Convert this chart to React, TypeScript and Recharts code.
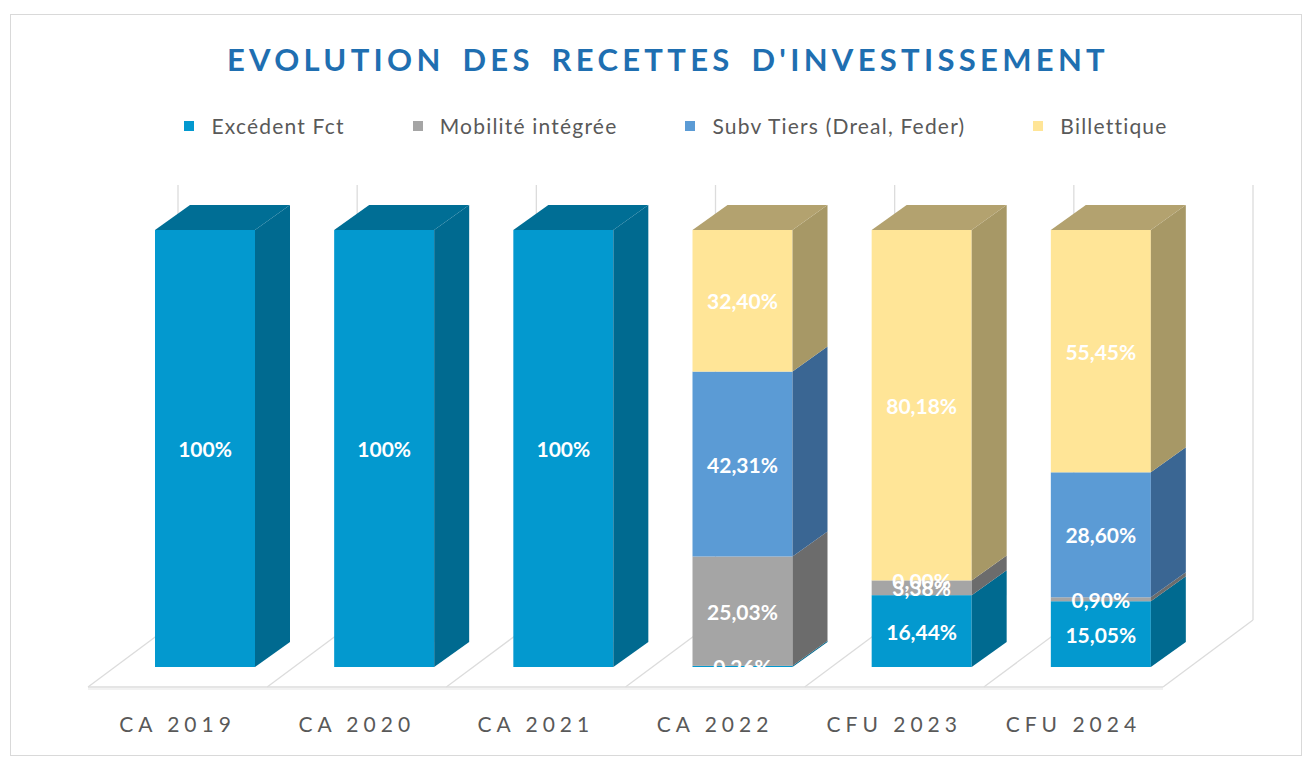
import React from 'react';
import { BarChart, Bar, XAxis, YAxis, LabelList } from 'recharts';

// categories and series (percent of the yearly total)
const categories = ['CA 2019', 'CA 2020', 'CA 2021', 'CA 2022', 'CFU 2023', 'CFU 2024'];
const excedentFct = [100, 100, 100, 0.26, 16.44, 15.05];
const mobiliteIntegree = [null, null, null, 25.03, 3.38, 0.9];
const subvTiers = [null, null, null, 42.31, 0, 28.6];
const billettique = [null, null, null, 32.4, 80.18, 55.45];

const series = [
  { key: 'excedent', name: 'Excédent Fct', values: excedentFct, front: '#0399CF', side: '#006A90', top: '#006E95' },
  { key: 'mobilite', name: 'Mobilité intégrée', values: mobiliteIntegree, front: '#A5A5A5', side: '#6C6C6C', top: '#7A7A7A' },
  { key: 'subv', name: 'Subv Tiers (Dreal, Feder)', values: subvTiers, front: '#5B9BD5', side: '#3A6693', top: '#426F9E' },
  { key: 'billettique', name: 'Billettique', values: billettique, front: '#FFE597', side: '#A79866', top: '#B3A26F' },
];

const rows = categories.map((cat, i) => {
  const row: any = { cat };
  series.forEach((s) => { row[s.key] = s.values[i]; });
  return row;
});

// layout
const W = 1314;
const H = 759;
const M = { top: 230, right: 124, bottom: 62, left: 115 };
const AXIS_H = 30;
const BASE = H - M.bottom - AXIS_H;
const DEPTH_X = 35;
const DEPTH_Y = 25;
const FONT = 'Lato, "Open Sans", sans-serif';

const topKeyOf = (row: any) => {
  let k = '';
  series.forEach((s) => { if (row[s.key] > 0) k = s.key; });
  return k;
};

const make3D = (s: typeof series[number]) => (props: any) => {
  const { x, y, width, height, index } = props;
  if (!height || height <= 0) return <g />;
  const row = rows[index];
  const isTop = topKeyOf(row) === s.key;
  const pts = (a: number[][]) => a.map((p) => p.join(',')).join(' ');
  return (
    <g>
      <rect x={x} y={y} width={width} height={height} fill={s.front} />
      <polygon
        points={pts([[x + width, y], [x + width + DEPTH_X, y - DEPTH_Y], [x + width + DEPTH_X, y + height - DEPTH_Y], [x + width, y + height]])}
        fill={s.side}
      />
      {isTop && (
        <polygon
          points={pts([[x, y], [x + DEPTH_X, y - DEPTH_Y], [x + width + DEPTH_X, y - DEPTH_Y], [x + width, y]])}
          fill={s.top}
        />
      )}
    </g>
  );
};

const fmt = (v: number) => (v === 100 ? '100%' : v.toFixed(2).replace('.', ',') + '%');

// bottom series labels are cut at the floor line, as in the original
const makeLabel = (clipBottom: boolean) => (props: any) => {
  const { x, y, width, height, value, index } = props;
  if (value === null || value === undefined) return null;
  const cx = x + width / 2;
  const cy = y + height / 2;
  const id = `clip-lbl-${index}`;
  return (
    <g>
      {clipBottom && (
        <defs>
          <clipPath id={id}>
            <rect x={x - 20} y={y - 100} width={width + 40} height={height + 100} />
          </clipPath>
        </defs>
      )}
      <text
        x={cx}
        y={cy}
        textAnchor="middle"
        dominantBaseline="central"
        fill="#FFFFFF"
        fontFamily={FONT}
        fontWeight={700}
        fontSize={21}
        clipPath={clipBottom ? `url(#${id})` : undefined}
      >
        {fmt(value)}
      </text>
    </g>
  );
};

const CategoryTick = ({ x, y, payload }: any) => (
  <text
    x={x - 27}
    y={y + 48}
    textAnchor="middle"
    dominantBaseline="central"
    fill="#595959"
    fontFamily={FONT}
    fontSize={21}
    letterSpacing={5}
  >
    {payload.value}
  </text>
);

// 3D floor and back wall drawn behind the chart
const Floor = () => {
  const n = categories.length;
  const left = M.left;
  const right = W - M.right;
  const band = (right - left) / n;
  const fx = left - 27;
  const fy = BASE + 20;
  const bx = left + 63;
  const by = BASE - 47;
  const wallTop = 185;
  const lines = [];
  for (let k = 0; k <= n; k++) {
    lines.push(<line key={'d' + k} x1={fx + band * k} y1={fy} x2={bx + band * k} y2={by} />);
    lines.push(<line key={'v' + k} x1={bx + band * k} y1={by} x2={bx + band * k} y2={wallTop} />);
  }
  return (
    <svg width={W} height={H} style={{ position: 'absolute', left: 0, top: 0 }}>
      <g stroke="#DCDCDC" strokeWidth={1.3} fill="none">
        {lines}
        <line x1={fx} y1={fy} x2={fx + band * n} y2={fy} />
        <line x1={fx} y1={fy + 2} x2={fx + band * n} y2={fy + 2} stroke="#EEEEEE" />
      </g>
    </svg>
  );
};

const Legend = () => (
  <div
    style={{
      position: 'absolute',
      top: 113,
      left: 0,
      width: W,
      display: 'flex',
      justifyContent: 'center',
      gap: 68,
      fontFamily: FONT,
      fontSize: 21,
      color: '#595959',
      letterSpacing: 1.2,
      paddingLeft: 38,
      boxSizing: 'border-box',
    }}
  >
    {series.map((s) => (
      <div key={s.key} style={{ display: 'flex', alignItems: 'center' }}>
        <span style={{ width: 10, height: 10, background: s.front, display: 'inline-block', marginRight: 17 }} />
        {s.name}
      </div>
    ))}
  </div>
);

export default function App() {
  return (
    <div style={{ position: 'absolute', left: 0, top: 0, width: W, height: H, background: '#fff', overflow: 'hidden' }}>
      <div
        style={{
          position: 'absolute',
          left: 10,
          top: 14,
          width: 1292,
          height: 742,
          border: '1.5px solid #D9D9D9',
          boxSizing: 'border-box',
        }}
      />
      <div
        style={{
          position: 'absolute',
          top: 40,
          left: 0,
          width: W,
          textAlign: 'center',
          fontFamily: FONT,
          fontWeight: 700,
          fontSize: 31,
          letterSpacing: 4.3,
          wordSpacing: 6,
          color: '#1F6FB1',
          paddingLeft: 22,
          boxSizing: 'border-box',
        }}
      >
        EVOLUTION DES RECETTES D'INVESTISSEMENT
      </div>
      <Legend />
      <Floor />
      <div style={{ position: 'absolute', left: 0, top: 0 }}>
        <BarChart width={W} height={H} data={rows} margin={M}>
          <XAxis dataKey="cat" axisLine={false} tickLine={false} height={AXIS_H} tick={<CategoryTick />} interval={0} />
          <YAxis hide domain={[0, 100]} />
          {series.map((s, i) => (
            <Bar
              key={s.key}
              dataKey={s.key}
              name={s.name}
              stackId="a"
              fill={s.front}
              barSize={100}
              shape={make3D(s)}
              isAnimationActive={false}
            >
              <LabelList dataKey={s.key} content={makeLabel(i === 0)} />
            </Bar>
          ))}
        </BarChart>
      </div>
    </div>
  );
}
